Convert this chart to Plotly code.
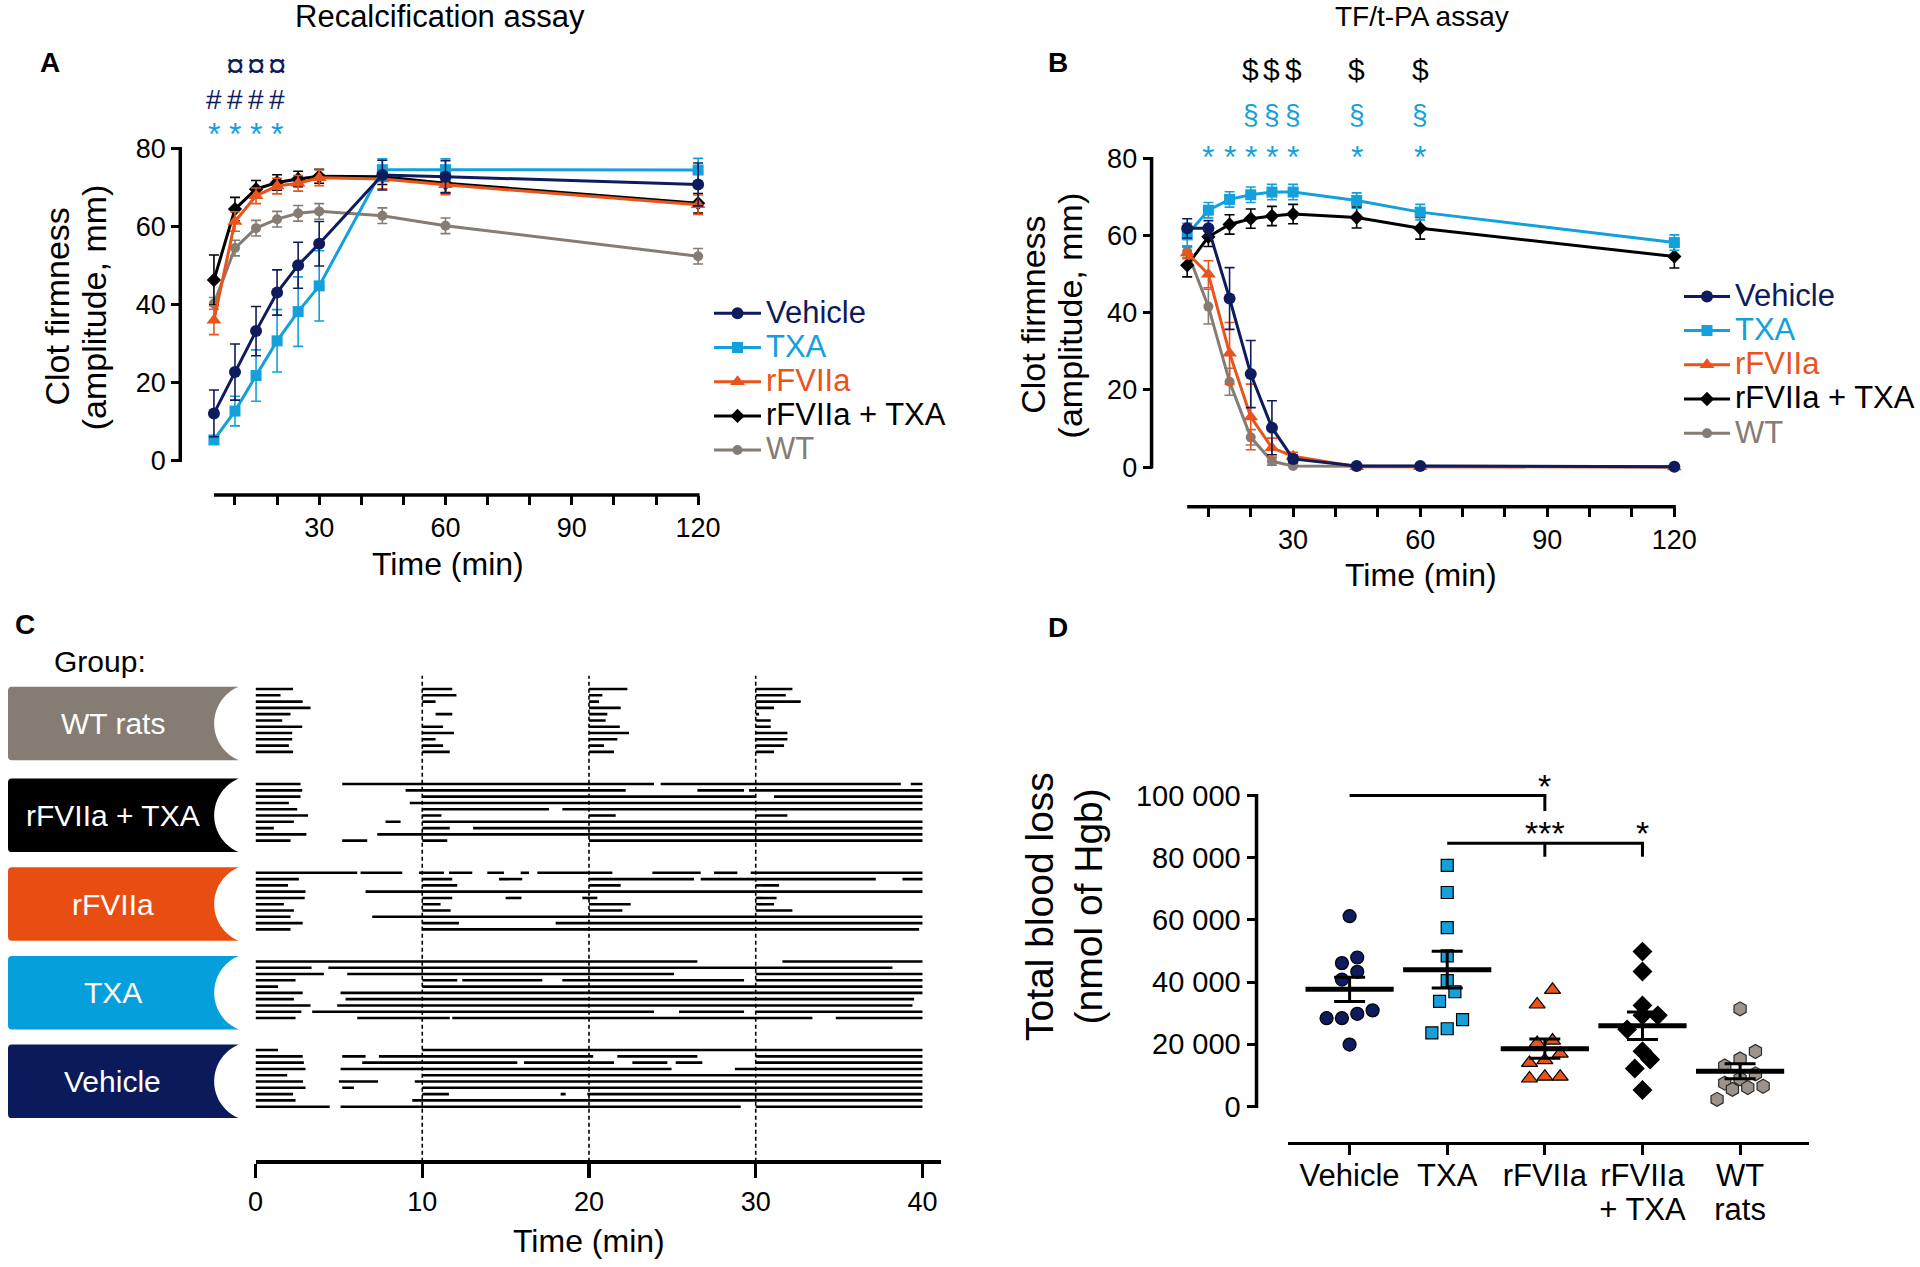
import numpy as np
import plotly.graph_objects as go

W, H = 1920, 1267
FONT = "Liberation Sans, Arial, Helvetica, sans-serif"

C_VEH = "#0e1b5c"
C_TXA = "#13a0db"
C_RF = "#e8541b"
C_RFTXA = "#000000"
C_WT = "#857c74"

# ---------------- data: panels A & B (mean, SEM) ----------------
time_min = [5, 10, 15, 20, 25, 30, 45, 60, 120]

a_vehicle = [12.1, 22.7, 33.2, 43.1, 50.1, 55.6, 73.2, 72.8, 70.8]
a_vehicle_err = [6.0, 7.2, 6.3, 5.8, 5.9, 5.7, 3.8, 4.1, 5.5]
a_txa = [5.3, 12.7, 21.8, 30.7, 38.2, 44.8, 74.6, 74.6, 74.5]
a_txa_err = [1.0, 3.8, 6.6, 8.0, 8.9, 9.0, 2.8, 2.8, 3.0]
a_rf = [36.0, 61.3, 67.9, 70.4, 71.1, 72.5, 72.2, 70.7, 65.6]
a_rf_err = [3.7, 2.5, 2.0, 2.0, 2.0, 2.0, 2.5, 2.5, 2.5]
a_rftxa = [46.3, 64.5, 69.6, 71.3, 72.2, 72.9, 72.8, 71.1, 66.0]
a_rftxa_err = [6.4, 3.0, 2.2, 2.0, 2.0, 1.8, 2.0, 2.5, 2.5]
a_wt = [40.3, 54.5, 59.6, 61.9, 63.4, 63.9, 62.8, 60.2, 52.4]
a_wt_err = [1.5, 2.0, 2.0, 2.0, 2.0, 2.0, 2.0, 2.0, 2.0]

b_vehicle = [61.9, 61.9, 43.7, 24.1, 10.2, 2.1, 0.3, 0.3, 0.1]
b_vehicle_err = [2.5, 2.0, 8.0, 8.7, 7.0, 1.0, 0.3, 0.3, 0.2]
b_txa = [60.2, 66.6, 69.4, 70.6, 71.3, 71.3, 69.1, 66.1, 58.2]
b_txa_err = [3.0, 2.0, 2.0, 2.0, 2.0, 2.0, 2.0, 2.0, 2.0]
b_rf = [55.5, 50.0, 29.5, 13.0, 5.0, 2.8, 0.1, 0.1, 0.0]
b_rf_err = [1.5, 3.5, 8.0, 8.5, 2.5, 1.0, 0.2, 0.2, 0.2]
b_rftxa = [52.3, 59.7, 62.9, 64.4, 65.1, 65.6, 64.7, 61.9, 54.6]
b_rftxa_err = [3.0, 2.5, 2.5, 2.5, 2.5, 2.5, 2.7, 2.8, 3.0]
b_wt = [55.9, 41.6, 22.1, 7.7, 1.5, 0.3, 0.2, 0.2, 0.1]
b_wt_err = [1.5, 4.5, 3.5, 2.0, 1.0, 0.3, 0.2, 0.2, 0.1]

a_star_times = [5, 10, 15, 20]
a_hash_times = [5, 10, 15, 20]
a_curr_times = [10, 15, 20]
b_star_times = [10, 15, 20, 25, 30, 45, 60]
b_sect_times = [20, 25, 30, 45, 60]
b_dollar_times = [20, 25, 30, 45, 60]

ab_ticks = [10, 20, 30, 40, 50, 60, 70, 80, 90, 100, 110, 120]
ab_ticklabels = ["", "", "30", "", "", "60", "", "", "90", "", "", "120"]
ab_yticks = [0, 20, 40, 60, 80]

# ---------------- data: panel C (bleeding periods, min) ----------------
c_groups = ["WT rats", "rFVIIa + TXA", "rFVIIa", "TXA", "Vehicle"]
c_wt = [
    [(0, 2.25), (10, 11.8), (20, 22.3), (30, 32.2)],
    [(0, 1.5), (10, 12.05), (20, 20.8), (30, 31.8)],
    [(0, 2.83), (10, 10.8), (20, 20.6), (30, 32.7)],
    [(0, 3.3), (20, 21.9), (30, 31.1)],
    [(0, 2.1), (10.8, 11.8), (20, 21.1), (30, 30.2)],
    [(0, 1.6), (20, 21.0), (30, 30.9)],
    [(0, 2.8), (10, 11.25), (20, 21.85), (30, 30.9)],
    [(0, 2.2), (10, 11.9), (20, 22.4), (30, 31.9)],
    [(0, 2.2), (10, 10.8), (20, 21.7), (30, 31.9)],
    [(0, 2.0), (10, 11.25), (20, 20.9), (30, 31.7)],
    [(0, 2.25), (10, 11.65), (20, 21.5), (30, 31.1)],
]
c_rftxa = [
    [(0, 2.7), (5.2, 23.9), (24.3, 38.7), (39.3, 40)],
    [(0, 2.8), (9.0, 22.2), (26.5, 29.3), (29.6, 40)],
    [(0, 2.7), (10, 30), (31.1, 40)],
    [(0, 2.0), (9.25, 40)],
    [(0, 2.5), (10, 17.6), (18.4, 40)],
    [(0, 3.15), (10, 11.15), (20, 21.6), (30, 31.9)],
    [(0, 2.3), (7.8, 8.7), (10, 40)],
    [(0, 1.1), (10, 11.65), (13.05, 40)],
    [(0, 3.05), (7.3, 40)],
    [(0, 2.1), (5.2, 6.7), (10, 11.5), (20, 40)],
]
c_rf = [
    [(0, 6.1), (6.3, 8.8), (9.8, 11.3), (11.6, 13.0), (13.9, 14.9), (15.9, 16.4),
     (16.9, 21.4), (23.8, 26.7), (27.5, 28.9), (29.7, 40)],
    [(0, 2.6), (10, 11.8), (14.6, 16.0), (20, 26.3), (26.7, 37.2), (38.8, 40)],
    [(0, 1.95), (10, 12.1), (20, 21.9), (30, 31.4)],
    [(0, 3.0), (6.6, 40)],
    [(0, 2.95), (10, 11.8), (15.0, 15.95), (19.6, 20.5), (30, 31.25)],
    [(0, 1.7), (10, 11.1), (20, 22.5), (30, 31.1)],
    [(0, 2.3), (10, 11.7), (20, 22.0), (30, 32.2)],
    [(0, 2.1), (7.0, 40)],
    [(0, 2.83), (10, 12.2), (18.0, 40)],
    [(0, 2.1), (10, 39.8)],
]
c_txa = [
    [(0, 26.5), (31.6, 40)],
    [(0, 3.36), (4.37, 38.2)],
    [(0, 4.1), (5.5, 25.1), (30, 40)],
    [(0, 2.4), (10, 12.1), (12.4, 17.2), (18.4, 29.3), (30, 40)],
    [(0, 1.35), (10, 40)],
    [(0, 2.83), (5.1, 40)],
    [(0, 2.3), (5.4, 39.5)],
    [(0, 3.3), (4.9, 39.4)],
    [(0, 2.75), (3.4, 23.9), (25.4, 29.3), (30, 40)],
    [(0, 2.4), (6.1, 11.65), (11.8, 33.4), (34.8, 40)],
]
c_vehicle = [
    [(0, 1.35), (10, 40)],
    [(0, 2.83), (5.2, 6.6), (7.4, 20.25), (21.7, 26.5), (30, 40)],
    [(0, 2.9), (6.4, 15.7), (16.1, 21.5), (22.6, 24.7), (25.2, 26.8), (30, 40)],
    [(0, 3.0), (5.1, 24.95), (28.75, 40)],
    [(0, 1.9), (10, 40)],
    [(0, 2.85), (5.0, 7.35), (9.55, 40)],
    [(0, 3.0), (5.2, 5.9), (10, 40)],
    [(0, 2.25), (10, 11.6), (18.3, 18.6), (19.9, 40)],
    [(0, 2.4), (9.4, 40)],
    [(0, 4.45), (5.1, 29.1), (30, 40)],
]
c_ticks = [0, 10, 20, 30, 40]
c_injury_times = [10, 20, 30]

# ---------------- data: panel D (total blood loss, nmol Hgb) ----------------
d_categories = [["Vehicle"], ["TXA"], ["rFVIIa"], ["rFVIIa", "+ TXA"], ["WT", "rats"]]
d_vehicle = [61200, 47900, 46100, 43300, 40800, 30900, 28400, 28400, 29800, 19900]
d_txa = [77500, 68800, 57500, 48400, 40500, 36900, 33800, 27900, 23700, 25000]
d_rf = [37500, 32800, 20400, 21200, 17000, 14900, 14000, 9600, 9000, 9600]
d_rftxa = [49800, 43400, 32500, 29300, 29300, 24800, 17800, 15100, 12200, 5300]
d_wt = [31400, 17700, 15300, 13000, 10500, 8900, 7500, 6500, 6100, 5500, 2300]
d_yticks = [0, 20000, 40000, 60000, 80000, 100000]
d_yticklabels = ["0", "20 000", "40 000", "60 000", "80 000", "100 000"]


# ---------------- layout helpers ----------------
def px2x(px):
    return px / W


def py2y(py):
    return 1 - py / H


fig = go.Figure()
shapes, annos = [], []


def text(px, py, s, size=28, color="black", bold=False, angle=0, xanchor="center", yanchor="middle"):
    if bold:
        s = "<b>" + s + "</b>"
    annos.append(dict(x=px2x(px), y=py2y(py), xref="paper", yref="paper", text=s, showarrow=False,
                      font=dict(family=FONT, size=size, color=color), textangle=angle,
                      xanchor=xanchor, yanchor=yanchor))


def hline(x0, x1, py, w=3.5, color="black"):
    shapes.append(dict(type="line", xref="paper", yref="paper", x0=px2x(x0), x1=px2x(x1),
                       y0=py2y(py), y1=py2y(py), line=dict(color=color, width=w)))


def vline(px, y0, y1, w=3.5, color="black", dash=None):
    ln = dict(color=color, width=w)
    if dash:
        ln["dash"] = dash
    shapes.append(dict(type="line", xref="paper", yref="paper", x0=px2x(px), x1=px2x(px),
                       y0=py2y(y0), y1=py2y(y1), line=ln))


axes = {}


def time_panel(xname, yname, x5, x120, y0, y80, yline_x, xline_y):
    kx = (x120 - x5) / 115.0
    ky = (y0 - y80) / 80.0
    pad = 12
    axes[xname] = dict(domain=[px2x(x5 - pad), px2x(x120 + pad)], range=[5 - pad / kx, 120 + pad / kx],
                       anchor="free", position=py2y(xline_y), showline=False, showgrid=False, zeroline=False,
                       tickvals=ab_ticks, ticktext=ab_ticklabels, ticks="outside", ticklen=9, tickwidth=3,
                       tickcolor="black", tickfont=dict(family=FONT, size=27, color="black"))
    axes[yname] = dict(domain=[py2y(y0 + pad), py2y(y80 - pad)], range=[-pad / ky, 80 + pad / ky],
                       anchor="free", position=px2x(yline_x), showline=False, showgrid=False, zeroline=False,
                       tickvals=ab_yticks, ticks="outside", ticklen=9, tickwidth=3, tickcolor="black",
                       tickfont=dict(family=FONT, size=27, color="black"))
    vline(yline_x, y0 + 1.5, y80 - 1.5, w=3.5)
    hline(x5, x120 + 1.5, xline_y, w=3.5)
    return (lambda t: x5 + (t - 5) * kx)


series_style = [
    ("Vehicle", C_VEH, "circle", 12),
    ("TXA", C_TXA, "square", 11),
    ("rFVIIa", C_RF, "triangle-up", 13),
    ("rFVIIa + TXA", C_RFTXA, "diamond", 11),
    ("WT", C_WT, "circle", 10),
]


def add_time_series(xa, ya, legend_id, vals, errs):
    draw_order = [4, 3, 2, 1, 0]
    for i in draw_order:
        name, col, sym, sz = series_style[i]
        fig.add_trace(go.Scatter(
            x=time_min, y=vals[i], xaxis=xa, yaxis=ya, mode="lines+markers",
            name='<span style="font-size:31px;color:%s">%s</span>' % (col, name),
            legend=legend_id, legendrank=i + 1,
            line=dict(color=col, width=3), marker=dict(symbol=sym, size=sz, color=col),
            error_y=dict(type="data", array=errs[i], color=col, thickness=1.6, width=5),
            cliponaxis=False, hoverinfo="skip"))


SIG = 28
STAR = 32

# ---------- Panel A ----------
A_X5, A_X120, A_Y0, A_Y80 = 208, 697, 459.5, 145.5
ax_a = time_panel("xaxis", "yaxis", A_X5, A_X120, A_Y0, A_Y80, 174, 494)
add_time_series("x", "y", "legend", [a_vehicle, a_txa, a_rf, a_rftxa, a_wt],
                [a_vehicle_err, a_txa_err, a_rf_err, a_rftxa_err, a_wt_err])
for t in a_star_times:
    text(ax_a(t), 131, "*", STAR, C_TXA)
for t in a_hash_times:
    text(ax_a(t), 96, "#", SIG, C_VEH)
for t in a_curr_times:
    text(ax_a(t), 62, "¤", 33, C_VEH)
text(436, 13, "Recalcification assay", 31)
text(42, 59, "A", 28, bold=True)
text(444, 564, "Time (min)", 32)
text(50, 305, "Clot firmness", 34, angle=-90)
text(87, 305, "(amplitude, mm)", 34, angle=-90)

# ---------- Panel B ----------
B_X5, B_X120, B_Y0, B_Y80 = 1191, 1683, 466, 155.5
ax_b = time_panel("xaxis2", "yaxis2", B_X5, B_X120, B_Y0, B_Y80, 1155, 506)
add_time_series("x2", "y2", "legend2", [b_vehicle, b_txa, b_rf, b_rftxa, b_wt],
                [b_vehicle_err, b_txa_err, b_rf_err, b_rftxa_err, b_wt_err])
for t in b_star_times:
    text(ax_b(t), 154, "*", STAR, C_TXA)
for t in b_sect_times:
    text(ax_b(t), 111, "§", SIG, C_TXA)
for t in b_dollar_times:
    text(ax_b(t), 66, "$", 30, "black")
text(1428, 13, "TF/t-PA assay", 28)
text(1060, 59, "B", 28, bold=True)
text(1427, 575, "Time (min)", 32)
text(1035, 313, "Clot firmness", 34, angle=-90)
text(1073, 313, "(amplitude, mm)", 34, angle=-90)

# ---------- Panel C ----------
C_X0, C_KX, C_XEND = 250, 16.84, 942
C_TOP, C_AXIS = 676, 1165
ROW_GAP = 6.33
group_centers = [721, 813.5, 902.8, 992, 1081.2]
group_colors = [C_WT, "#000000", "#e84e12", "#05a0dc", "#0b1a5b"]
groups = [c_wt, c_rftxa, c_rf, c_txa, c_vehicle]

axes["xaxis3"] = dict(domain=[px2x(C_X0), px2x(C_XEND)], range=[0, (C_XEND - C_X0) / C_KX],
                      anchor="free", position=py2y(C_AXIS), showline=True, linewidth=4.5, linecolor="black",
                      showgrid=False, zeroline=False, tickvals=c_ticks, ticks="outside", ticklen=14,
                      tickwidth=3.5, tickcolor="black", tickfont=dict(family=FONT, size=27, color="black"))
axes["yaxis3"] = dict(domain=[py2y(C_AXIS), py2y(C_TOP)], range=[C_AXIS, C_TOP], visible=False,
                      anchor="x3", showgrid=False, zeroline=False)

for g, rows in enumerate(groups):
    xs, ys = [], []
    n = len(rows)
    for r, segs in enumerate(rows):
        yrow = group_centers[g] + (r - (n - 1) / 2.0) * ROW_GAP
        for (s, e) in segs:
            xs += [s, e, None]
            ys += [yrow, yrow, None]
    fig.add_trace(go.Scatter(x=xs, y=ys, xaxis="x3", yaxis="y3", mode="lines",
                             line=dict(color="black", width=2.6), showlegend=False, hoverinfo="skip"))
    # group label box with concave right side
    cy = group_centers[g] + 3
    top, bot = cy - 37, cy + 37
    xl, xr = 0, 233
    half = (bot - top) / 2.0
    r_c = 40.0
    cx = xr + np.sqrt(r_c ** 2 - half ** 2)
    ang0 = np.arcsin(half / r_c)
    arc = [(cx - r_c * np.cos(a), cy + r_c * np.sin(a)) for a in np.linspace(-ang0, ang0, 25)]
    path = "M %f,%f L %f,%f " % (px2x(xl + 4), py2y(top), px2x(xr), py2y(top))
    for (px_, py_) in arc:
        path += "L %f,%f " % (px2x(px_), py2y(py_))
    path += "L %f,%f Q %f,%f %f,%f L %f,%f Q %f,%f %f,%f Z" % (
        px2x(xl + 4), py2y(bot), px2x(xl), py2y(bot), px2x(xl), py2y(bot - 4),
        px2x(xl), py2y(top + 4), px2x(xl), py2y(top), px2x(xl + 4), py2y(top))
    shapes.append(dict(type="path", xref="paper", yref="paper", path=path,
                       fillcolor=group_colors[g], line=dict(width=0), layer="below"))
    text(106, cy, c_groups[g], 30, "white")

for t in c_injury_times:
    shapes.append(dict(type="line", xref="x3", yref="paper", x0=t, x1=t, y0=py2y(C_AXIS), y1=py2y(C_TOP),
                       line=dict(color="black", width=1.6, dash="4px,3px")))
text(17, 624, "C", 28, bold=True)
text(93, 662, "Group:", 30)
text(587, 1245, "Time (min)", 32)

# ---------- Panel D ----------
D_X0, D_DX = 1355, 98.6
D_Y0, D_Y100 = 1109.5, 796.5
D_KY = (D_Y0 - D_Y100) / 100000.0
D_YLINE, D_XLINE = 1261, 1146
D_XL, D_XR = 1293, 1819
pad = 12
d_ticktext = ["<br>".join('<span style="font-size:31px">%s</span>' % ln for ln in lab) for lab in d_categories]
axes["xaxis4"] = dict(domain=[px2x(D_XL), px2x(D_XR)], range=[(D_XL - D_X0) / D_DX, (D_XR - D_X0) / D_DX],
                      anchor="free", position=py2y(D_XLINE), showline=True, linewidth=3.5, linecolor="black",
                      showgrid=False, zeroline=False, tickvals=list(range(5)), ticktext=d_ticktext,
                      ticks="outside", ticklen=10, tickwidth=3, tickcolor="black",
                      tickfont=dict(family=FONT, size=26, color="black"))
axes["yaxis4"] = dict(domain=[py2y(D_Y0 + pad), py2y(D_Y100 - pad)],
                      range=[-pad / D_KY, 100000 + pad / D_KY], anchor="free", position=px2x(D_YLINE),
                      showline=False, showgrid=False, zeroline=False, tickvals=d_yticks, ticktext=d_yticklabels,
                      ticks="outside", ticklen=10, tickwidth=3, tickcolor="black",
                      tickfont=dict(family=FONT, size=29, color="black"))
vline(D_YLINE, D_Y0 + 1.5, D_Y100 - 1.5, w=3.5)


def swarm_offsets(vals, d=15.5, max_per_row=4):
    vals = np.asarray(vals, float)
    order = np.argsort(vals, kind="stable")
    offs = np.zeros(len(vals))
    row = []

    def flush(rw):
        m = len(rw)
        for j, idx in enumerate(rw):
            offs[idx] = (j - (m - 1) / 2.0) * d

    for idx in order:
        if row and ((vals[idx] - vals[row[0]]) * D_KY >= d or len(row) >= max_per_row):
            flush(row)
            row = []
        row.append(idx)
    flush(row)
    return offs / D_DX


d_sets = [d_vehicle, d_txa, d_rf, d_rftxa, d_wt]
d_style = [
    (C_VEH, "circle", 13, "#000000"),
    (C_TXA, "square", 12, "#000000"),
    (C_RF, "triangle-up", 14, "#000000"),
    ("#000000", "diamond", 14, "#000000"),
    ("#9c948c", "hexagon", 14, "#2a2a2a"),
]
for i, vals in enumerate(d_sets):
    col, sym, sz, lc = d_style[i]
    offs = swarm_offsets(vals)
    fig.add_trace(go.Scatter(x=i + offs, y=vals, xaxis="x4", yaxis="y4", mode="markers",
                             marker=dict(symbol=sym, size=sz, color=col, line=dict(color=lc, width=1.2)),
                             showlegend=False, cliponaxis=False, hoverinfo="skip"))
    mean = float(np.mean(vals))
    sem = float(np.std(vals, ddof=1) / np.sqrt(len(vals)))
    fig.add_trace(go.Scatter(x=[i], y=[mean], xaxis="x4", yaxis="y4", mode="markers",
                             marker=dict(symbol="line-ew", size=63, line=dict(color="black", width=5)),
                             error_y=dict(type="data", array=[sem], color="black", thickness=3, width=15.5),
                             showlegend=False, cliponaxis=False, hoverinfo="skip"))


def dxp(cat):
    return D_X0 + cat * D_DX


def dyp(v):
    return D_Y0 - v * D_KY


# significance brackets
hline(dxp(0), dxp(2) + 1.5, dyp(100000), w=3)
vline(dxp(2), dyp(100000), dyp(95000), w=3)
text(dxp(2), dyp(100000) - 10, "*", 34)
hline(dxp(1), dxp(3) + 1.5, dyp(84600), w=3)
vline(dxp(2), dyp(84600), dyp(80300), w=3)
vline(dxp(3), dyp(84600), dyp(80300), w=3)
text(dxp(2), dyp(84600) - 10, "***", 34)
text(dxp(3), dyp(84600) - 10, "*", 34)
text(1060, 627, "D", 28, bold=True)
text(1042, 908, "Total blood loss", 39, angle=-90)
text(1091, 908, "(nmol of Hgb)", 39, angle=-90)

fig.update_layout(
    width=W, height=H, margin=dict(l=0, r=0, t=0, b=0),
    paper_bgcolor="white", plot_bgcolor="white", hovermode=False,
    font=dict(family=FONT, color="black"),
    shapes=shapes, annotations=annos,
    legend=dict(x=px2x(708), y=py2y(289), xanchor="left", yanchor="top", bgcolor="rgba(0,0,0,0)",
                font=dict(family=FONT, size=24), traceorder="normal", itemwidth=47),
    legend2=dict(x=px2x(1688), y=py2y(272), xanchor="left", yanchor="top", bgcolor="rgba(0,0,0,0)",
                 font=dict(family=FONT, size=24), traceorder="normal", itemwidth=46),
    **axes,
)

fig.write_html(
    "out.html",
    config={"displayModeBar": False, "staticPlot": True},
    post_script=("document.documentElement.style.margin='0px';document.body.style.margin='0px';"
                 "document.body.style.padding='0px';document.documentElement.style.overflow='hidden';"
                 "document.body.style.overflow='hidden';"),
)
